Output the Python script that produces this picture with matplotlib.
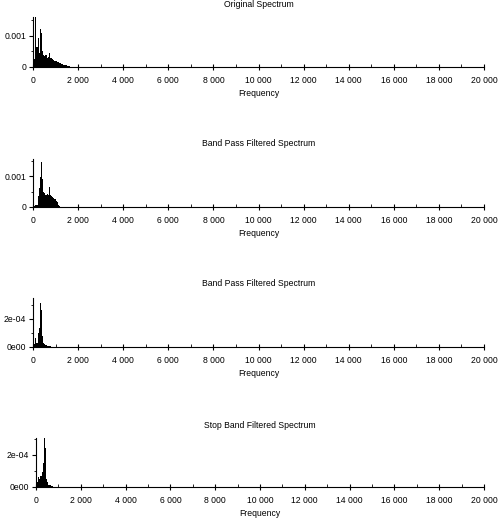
import matplotlib.pyplot as plt
from matplotlib.ticker import MultipleLocator, FixedLocator, FuncFormatter

# frequency bins (Hz) of the shown spectra
freq = [0, 50, 100, 150, 200, 250, 300, 350, 400, 450,
        500, 550, 600, 650, 700, 750, 800, 850, 900, 950,
        1000, 1050, 1100, 1150, 1200, 1250, 1300, 1350, 1400, 1450,
        1500, 1550, 1600, 1650, 1700, 1750, 1800, 1850, 1900, 1950]

original = [0.0, 0.25, 1.6, 0.65, 0.93, 0.45, 1.22, 1.1, 0.5, 0.4,
            0.35, 0.38, 0.3, 0.33, 0.45, 0.3, 0.28, 0.25, 0.22, 0.2,
            0.18, 0.16, 0.15, 0.13, 0.12, 0.1, 0.09, 0.08, 0.06, 0.05,
            0.04, 0.03, 0.02, 0.015, 0.01, 0.008, 0.006, 0.005, 0.004, 0.003]
band_pass = [0.02, 0.04, 0.05, 0.08, 0.35, 0.6, 0.96, 1.44, 0.9, 0.5,
             0.45, 0.4, 0.42, 0.38, 0.64, 0.4, 0.36, 0.33, 0.3, 0.25,
             0.2, 0.15, 0.08, 0.03, 0.01, 0, 0, 0, 0, 0,
             0, 0, 0, 0, 0, 0, 0, 0, 0, 0]
band_pass2 = [0.05, 0.2, 0.62, 0.3, 0.98, 1.34, 3.12, 2.64, 0.8, 0.3,
              0.2, 0.15, 0.1, 0.1, 0.08, 0.05, 0.02, 0, 0, 0,
              0, 0, 0, 0, 0, 0, 0, 0, 0, 0,
              0, 0, 0, 0, 0, 0, 0, 0, 0, 0]
stop_band = [0.05, 0.3, 0.64, 0.5, 0.7, 0.96, 1.5, 3.04, 2.42, 0.5,
             0.3, 0.15, 0.1, 0.06, 0.04, 0.02, 0, 0, 0, 0,
             0, 0, 0, 0, 0, 0, 0, 0, 0, 0,
             0, 0, 0, 0, 0, 0, 0, 0, 0, 0]

titles = ["Original Spectrum", "Band Pass Filtered Spectrum",
          "Band Pass Filtered Spectrum", "Stop Band Filtered Spectrum"]
series = [[v * 1e-3 for v in original], [v * 1e-3 for v in band_pass],
          [v * 1e-4 for v in band_pass2], [v * 1e-4 for v in stop_band]]
yticks = [[0, 0.001], [0, 0.001], [0, 2e-4], [0, 2e-4]]
ylabels = [["0", "0.001"], ["0", "0.001"], ["0e00", "2e-04"], ["0e00", "2e-04"]]
ytops = [0.00161, 0.00155, 3.5e-4, 3.06e-4]

plt.rcParams['font.family'] = ['Liberation Sans', 'DejaVu Sans']
fig = plt.figure(figsize=(4.98, 5.22), dpi=100)

W, H = 498, 522
# pixel boxes: left, right, top, bottom
boxes = [(33, 484, 17, 67), (33, 484, 159, 207), (33, 484, 298, 347), (36, 484, 438, 487)]
title_y = [4.5, 144, 284, 425]

for i in range(4):
    l, r, t, b = boxes[i]
    ax = fig.add_axes([l / W, 1 - b / H, (r - l) / W, (b - t) / H])
    ax.bar(freq, series[i], width=50, color='black', align='edge', linewidth=0)
    ax.set_xlim(0, 20000)
    ax.set_ylim(0, ytops[i])
    for s in ['top', 'right']:
        ax.spines[s].set_visible(False)
    ax.spines['left'].set_linewidth(0.8)
    ax.spines['bottom'].set_linewidth(0.8)
    ax.xaxis.set_major_locator(MultipleLocator(2000))
    ax.xaxis.set_minor_locator(MultipleLocator(1000))
    ax.xaxis.set_major_formatter(FuncFormatter(lambda v, p: f"{int(v):,}".replace(",", " ")))
    ax.yaxis.set_major_locator(FixedLocator(yticks[i]))
    ax.set_yticklabels(ylabels[i])
    ax.yaxis.set_minor_locator(MultipleLocator(yticks[i][1] / 2))
    ax.tick_params(axis='x', which='major', direction='inout', length=5, width=0.8,
                   labelsize=6.2, pad=4)
    ax.tick_params(axis='x', which='minor', direction='in', length=2.5, width=0.6)
    ax.tick_params(axis='y', which='major', direction='out', length=3, width=0.8,
                   labelsize=6.2, pad=2)
    ax.tick_params(axis='y', which='minor', direction='out', length=1.5, width=0.6)
    ax.set_xlabel("Frequency", fontsize=6.2, labelpad=3)
    fig.text((l + r) / 2 / W, 1 - title_y[i] / H, titles[i], fontsize=6.2,
             ha='center', va='center')

fig.savefig("out.png", dpi=100)
